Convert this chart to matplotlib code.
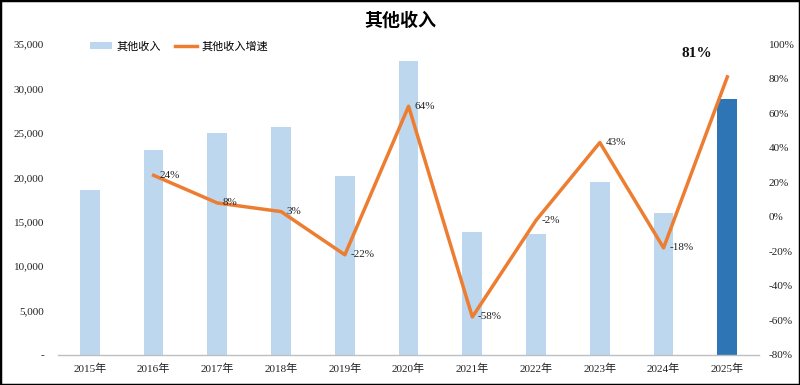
import matplotlib
matplotlib.use('Agg')
import matplotlib.pyplot as plt
import matplotlib.ticker as ticker
from matplotlib.patches import Rectangle, Patch
from matplotlib.lines import Line2D

plt.rcParams['font.family'] = ['Liberation Serif', 'Noto Sans CJK SC']

# 数据
years = ['2015年', '2016年', '2017年', '2018年', '2019年', '2020年',
         '2021年', '2022年', '2023年', '2024年', '2025年']
income = [18600, 23050, 24950, 25650, 20100, 33050, 13800, 13600, 19450, 15950, 28800]
growth = [None, 24, 8, 3, -22, 64, -58, -2, 43, -18, 81]
growth_labels = ['', '24%', '8%', '3%', '-22%', '64%', '-58%', '-2%', '43%', '-18%', '81%']

light_blue = '#BDD7EE'
dark_blue = '#2E75B6'
orange = '#ED7D31'

fig = plt.figure(figsize=(8, 3.85), dpi=100)
ax = fig.add_axes([0.0725, 0.078, 0.8765, 0.8075])
ax2 = ax.twinx()

x = list(range(len(years)))
colors = [light_blue] * (len(years) - 1) + [dark_blue]
ax.bar(x, income, width=0.31, color=colors, zorder=2)

ax.set_xlim(-0.5, len(years) - 0.5)
ax.set_ylim(0, 35000)
ax.yaxis.set_major_locator(ticker.MultipleLocator(5000))
ax.yaxis.set_major_formatter(ticker.FuncFormatter(lambda v, p: '-' if v == 0 else f'{int(v):,}'))
ax.set_xticks(x)
ax.set_xticklabels(years)
ax.tick_params(axis='both', length=0, labelsize=8, colors='#222222')
ax.tick_params(axis='x', pad=6)
ax.tick_params(axis='y', pad=10)
for s in ['top', 'right', 'left']:
    ax.spines[s].set_visible(False)
ax.spines['bottom'].set_color('#BFBFBF')
ax.spines['bottom'].set_linewidth(1.0)

# 增速折线
gx = x[1:]
gy = growth[1:]
ax2.plot(gx, gy, color=orange, linewidth=2.5, zorder=3)
ax2.set_ylim(-80, 100)
ax2.yaxis.set_major_locator(ticker.MultipleLocator(20))
ax2.yaxis.set_major_formatter(ticker.FuncFormatter(lambda v, p: f'{int(v)}%'))
ax2.tick_params(axis='y', length=0, labelsize=8, colors='#222222', pad=7)
for s in ['top', 'right', 'left', 'bottom']:
    ax2.spines[s].set_visible(False)

for i in range(1, len(years) - 1):
    ax2.annotate(growth_labels[i], (x[i], growth[i]), xytext=(4, 0),
                 textcoords='offset points', ha='left', va='center',
                 fontsize=8, color='#222222')
ax2.annotate(growth_labels[-1], (x[-1], growth[-1]), xytext=(-22, 17),
             textcoords='offset points', ha='center', va='center',
             fontsize=11, fontweight='bold', color='#111111')

fig.text(0.5, 0.945, '其他收入', ha='center', va='center', fontsize=13, fontweight='bold')

handles = [Patch(facecolor=light_blue, edgecolor='none'),
           Line2D([0], [0], color=orange, linewidth=2.5)]
fig.legend(handles, ['其他收入', '其他收入增速'], loc='center left',
           bbox_to_anchor=(0.1, 0.88), ncol=2, frameon=False, fontsize=8,
           handlelength=2.0, handleheight=0.6, columnspacing=1.2, handletextpad=0.4)

fig.patches.append(Rectangle((0, 0), 1, 1, transform=fig.transFigure,
                             fill=False, edgecolor='black', linewidth=2.5))

fig.savefig('out.png', dpi=100)
